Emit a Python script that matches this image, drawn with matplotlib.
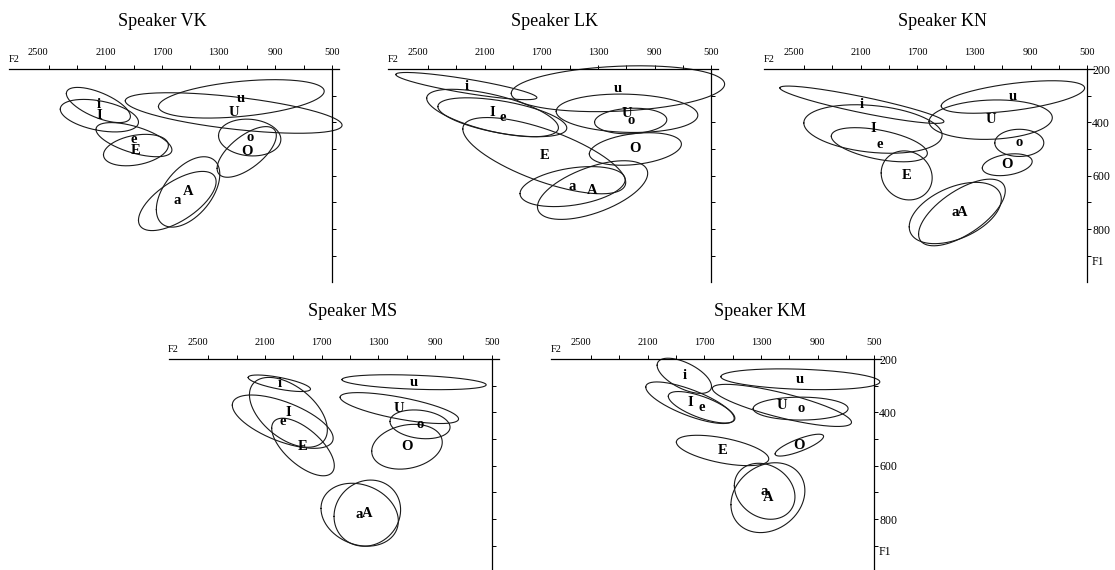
import numpy as np
import matplotlib
matplotlib.use('Agg')
import matplotlib.pyplot as plt

plt.rcParams['font.family'] = 'Liberation Serif'

# vowel order used by every speaker below
vowels = ['i', 'I', 'e', 'E', 'a', 'A', 'O', 'o', 'U', 'u']

# per speaker: F2 mean, F1 mean, F2 spread, F1 spread, F2/F1 correlation (Hz)
vk_f2 = [2149, 2142, 1898, 1884, 1592, 1516, 1102, 1081, 1194, 1140]
vk_f1 = [335, 375, 465, 504, 695, 661, 511, 457, 365, 312]
vk_s2 = [226, 276, 268, 229, 274, 224, 209, 220, 765, 585]
vk_s1 = [66, 61, 64, 59, 111, 132, 95, 69, 76, 72]
vk_r = [-0.65, -0.4, -0.6, 0.3, 0.65, 0.5, 0.65, -0.1, -0.6, 0.4]

lk_f2 = [2229, 2044, 1975, 1679, 1479, 1338, 1036, 1069, 1095, 1159]
lk_f1 = [264, 365, 381, 525, 641, 654, 500, 395, 366, 274]
lk_s2 = [498, 465, 455, 575, 371, 389, 325, 255, 500, 753]
lk_s1 = [51, 89, 73, 143, 75, 110, 61, 48, 72, 86]
lk_r = [-0.85, -0.62, -0.55, -0.7, 0.35, 0.57, 0.3, 0.1, -0.1, 0.2]

kn_f2 = [2091, 2013, 1968, 1775, 1432, 1385, 1065, 980, 1182, 1025]
kn_f1 = [334, 425, 484, 599, 740, 738, 559, 477, 390, 305]
kn_s2 = [579, 488, 339, 180, 325, 306, 176, 173, 435, 506]
kn_s1 = [70, 91, 64, 92, 115, 125, 41, 51, 74, 61]
kn_r = [-0.9, -0.25, -0.5, -0.1, 0.45, 0.65, 0.3, 0.0, 0.1, 0.55]

ms_f2 = [1999, 1935, 1975, 1832, 1432, 1378, 1098, 1006, 1152, 1048]
ms_f1 = [291, 400, 435, 530, 784, 778, 529, 445, 384, 287]
ms_s2 = [220, 275, 356, 221, 273, 235, 249, 212, 418, 509]
ms_s1 = [31, 131, 100, 108, 118, 124, 84, 54, 58, 28]
ms_r = [-0.7, -0.5, -0.62, -0.65, -0.2, 0.1, 0.2, -0.2, -0.7, -0.35]

km_f2 = [1841, 1801, 1719, 1571, 1274, 1251, 1029, 1020, 1152, 1022]
km_f1 = [263, 364, 381, 543, 696, 720, 523, 386, 374, 276]
km_s2 = [192, 312, 235, 326, 214, 261, 171, 335, 491, 561]
km_s1 = [66, 78, 59, 57, 105, 131, 41, 43, 79, 39]
km_r = [-0.6, -0.75, -0.7, -0.55, -0.2, 0.2, 0.8, 0.0, -0.8, -0.25]

speakers = ['VK', 'LK', 'KN', 'MS', 'KM']
title_f2 = [1695, 1606, 1523, 1481, 1307]
f2_major = [2500, 2100, 1700, 1300, 900, 500]
f2_minor = [2300, 1900, 1500, 1100, 700]
f1_major = [200, 400, 600, 800]
f1_minor = [300, 500, 700, 900]

W, H = 1115, 570
PXX = 170 / 3 / 400   # pixels per Hz along F2
PXY = 80 / 3 / 100    # pixels per Hz along F1
XL, XR, YT, YB = 2800, 400, 180, 1010

fig = plt.figure(figsize=(W / 100, H / 100), dpi=100)


def place(x500, y200):
    left = x500 - (XL - 500) * PXX
    right = x500 + (500 - XR) * PXX
    top = y200 - (200 - YT) * PXY
    bottom = y200 + (YB - 200) * PXY
    return fig.add_axes([left / W, 1 - bottom / H, (right - left) / W, (bottom - top) / H])


def panel(ax, name, tx, f2, f1, s2, s1, r, show_f1):
    ax.set_xlim(XL, XR)
    ax.set_ylim(YB, YT)
    ax.patch.set_alpha(0)
    t = np.linspace(0, 2 * np.pi, 300)
    for k in range(len(vowels)):
        x = f2[k] + s2[k] * np.cos(t)
        y = f1[k] + s1[k] * (r[k] * np.cos(t) + np.sqrt(1 - r[k] ** 2) * np.sin(t))
        ax.plot(x, y, color='#1a1a1a', lw=0.8, clip_on=False)
        ax.text(f2[k], f1[k], vowels[k], ha='center', va='center',
                fontsize=10.5, fontweight='bold')
    for s in ['left', 'bottom']:
        ax.spines[s].set_visible(False)
    ax.spines['top'].set_position(('data', 200))
    ax.spines['top'].set_bounds(450, 2780)
    ax.spines['right'].set_position(('data', 500))
    ax.spines['right'].set_bounds(200, 1000)
    for s in ['top', 'right']:
        ax.spines[s].set_linewidth(0.9)
    ax.xaxis.tick_top()
    ax.set_xticks(f2_major)
    ax.set_xticks(f2_minor, minor=True)
    ax.tick_params(axis='x', which='both', direction='out', length=3, width=0.7,
                   pad=5.5, labelsize=7.5)
    # first label sits left of its tick in the original
    ax.get_xticklabels()[0].set_horizontalalignment('right')
    ax.yaxis.tick_right()
    ax.set_yticks(f1_major)
    ax.set_yticks(f1_minor, minor=True)
    ax.tick_params(axis='y', which='both', direction='out', length=3, width=0.7,
                   pad=0.5, labelsize=8.5, labelright=show_f1)
    ax.text(2785, 182, 'F2', ha='left', va='bottom', fontsize=7.5)
    if show_f1:
        ax.text(470, 925, 'F1', ha='left', va='center', fontsize=8.5)
    ax.text(tx, 20, 'Speaker ' + name, ha='center', va='center', fontsize=13)


anchors = [(332, 69), (711.3, 69), (1087.3, 69), (491.7, 359), (874.3, 359)]
data = [(vk_f2, vk_f1, vk_s2, vk_s1, vk_r),
        (lk_f2, lk_f1, lk_s2, lk_s1, lk_r),
        (kn_f2, kn_f1, kn_s2, kn_s1, kn_r),
        (ms_f2, ms_f1, ms_s2, ms_s1, ms_r),
        (km_f2, km_f1, km_s2, km_s1, km_r)]

for i in range(5):
    ax = place(*anchors[i])
    panel(ax, speakers[i], title_f2[i], *data[i], show_f1=speakers[i] in ('KN', 'KM'))

fig.savefig('out.png', dpi=100)
